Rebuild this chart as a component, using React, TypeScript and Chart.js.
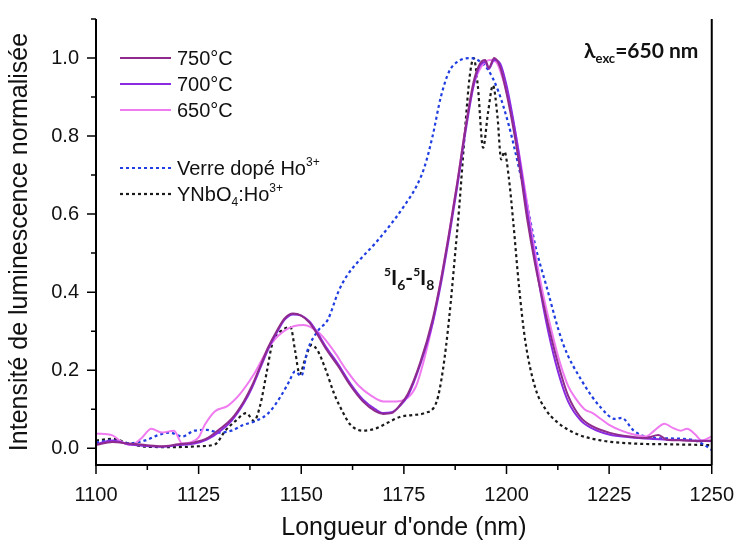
import React, { useEffect, useRef } from "react";
import { Chart, registerables } from "chart.js";
Chart.register(...registerables);

// ---------- data ----------
const wl750 = [1100, 1104, 1108, 1112, 1116, 1120, 1124, 1127, 1130, 1133, 1136, 1138, 1140, 1142, 1144, 1146, 1148, 1150, 1152, 1154, 1156, 1159, 1162, 1165, 1168, 1170, 1172, 1174, 1176, 1179, 1182, 1184, 1186, 1188, 1190, 1192, 1193.5, 1194.8, 1195.7, 1197, 1198.5, 1200, 1202, 1203.5, 1205, 1207, 1209, 1211, 1213, 1215, 1218, 1221, 1225, 1230, 1234, 1237, 1239, 1243, 1247, 1250];
const v750 = [0.008, 0.016, 0.012, 0.008, 0.005, 0.01, 0.015, 0.025, 0.048, 0.075, 0.12, 0.16, 0.21, 0.26, 0.3, 0.333, 0.345, 0.34, 0.322, 0.29, 0.255, 0.21, 0.16, 0.12, 0.095, 0.088, 0.09, 0.11, 0.14, 0.22, 0.33, 0.43, 0.55, 0.68, 0.82, 0.94, 0.985, 0.995, 0.975, 1.0, 0.975, 0.91, 0.8, 0.7, 0.59, 0.47, 0.37, 0.28, 0.2, 0.135, 0.08, 0.056, 0.04, 0.03, 0.026, 0.034, 0.022, 0.02, 0.018, 0.02];

const wl700 = [1100, 1104, 1108, 1112, 1116, 1120, 1124, 1127, 1130, 1133, 1136, 1138, 1140, 1142, 1144, 1146, 1148, 1150, 1152, 1154, 1156, 1159, 1162, 1165, 1168, 1170, 1172, 1174, 1176, 1179, 1182, 1184, 1186, 1188, 1190, 1192, 1193.5, 1194.8, 1195.7, 1197, 1198.5, 1200, 1202, 1203.5, 1205, 1207, 1209, 1211, 1213, 1215, 1218, 1221, 1225, 1230, 1235, 1240, 1245, 1250];
const v700 = [0.01, 0.02, 0.01, 0.006, 0.004, 0.008, 0.012, 0.022, 0.042, 0.07, 0.115, 0.155, 0.205, 0.255, 0.295, 0.33, 0.343, 0.34, 0.325, 0.295, 0.26, 0.215, 0.165, 0.125, 0.1, 0.09, 0.092, 0.108, 0.135, 0.215, 0.32, 0.42, 0.54, 0.67, 0.81, 0.93, 0.98, 0.99, 0.972, 0.995, 0.985, 0.93, 0.82, 0.72, 0.61, 0.48, 0.36, 0.26, 0.18, 0.12, 0.072, 0.05, 0.035, 0.028, 0.024, 0.022, 0.02, 0.018];

const wl650 = [1100, 1104, 1106, 1108.5, 1111, 1113.5, 1116, 1119, 1121, 1123, 1125, 1126.5, 1129, 1132, 1135, 1138.5, 1142.5, 1146.5, 1150.5, 1154.5, 1158, 1161, 1164, 1167, 1170, 1173, 1176, 1178, 1180, 1182, 1184, 1186, 1188, 1190, 1192, 1194, 1196, 1197.5, 1199, 1201, 1203, 1205, 1207, 1209, 1211, 1213, 1215, 1217, 1219, 1221, 1223, 1225, 1228, 1231, 1234, 1236, 1238.5, 1240.5, 1242.5, 1244, 1246, 1247.5, 1250];
const v650 = [0.038, 0.033, 0.018, 0.008, 0.025, 0.05, 0.04, 0.045, 0.012, 0.015, 0.028, 0.06, 0.095, 0.108, 0.138, 0.19, 0.265, 0.305, 0.316, 0.294, 0.248, 0.2, 0.16, 0.135, 0.12, 0.12, 0.13, 0.16, 0.23, 0.32, 0.43, 0.55, 0.68, 0.82, 0.93, 0.98, 0.995, 0.99, 0.95, 0.87, 0.76, 0.63, 0.5, 0.39, 0.3, 0.22, 0.16, 0.125, 0.1, 0.09, 0.075, 0.06, 0.045, 0.035, 0.03, 0.045, 0.063, 0.052, 0.045, 0.05, 0.035, 0.02, 0.03];

const wlGlass = [1100, 1104, 1108, 1112, 1115, 1118, 1121, 1124, 1127, 1130, 1133, 1136, 1139, 1142, 1145, 1147, 1148.5, 1150, 1151.5, 1154, 1156.5, 1159, 1161, 1164, 1168, 1173, 1175, 1178, 1180, 1182, 1184, 1186, 1188, 1191, 1193, 1195.5, 1198, 1200.5, 1203, 1205.5, 1207, 1209.6, 1213.7, 1218.5, 1223, 1226.5, 1228, 1231, 1234.5, 1240, 1245, 1248, 1250];
const vGlass = [0.015, 0.02, 0.013, 0.02, 0.033, 0.04, 0.03, 0.045, 0.047, 0.04, 0.045, 0.06, 0.07, 0.09, 0.133, 0.17, 0.197, 0.185, 0.25, 0.3, 0.33, 0.4, 0.44, 0.48, 0.525, 0.59, 0.62, 0.67, 0.72, 0.8, 0.9, 0.965, 0.99, 1.0, 0.995, 0.97, 0.915, 0.83, 0.72, 0.6, 0.52, 0.42, 0.27, 0.17, 0.104, 0.075, 0.078, 0.045, 0.028, 0.025, 0.022, 0.01, -0.005];

const wlYNbO4 = [1100, 1104, 1108, 1112, 1116, 1120, 1125, 1129, 1131.5, 1134, 1136.6, 1138.5, 1140, 1141.5, 1143, 1145, 1147.4, 1148.5, 1149.6, 1151, 1152.5, 1154, 1156, 1158, 1160, 1162, 1165, 1168, 1171, 1174, 1177, 1180, 1183, 1184.5, 1186, 1187.5, 1188.5, 1190, 1191, 1192, 1193, 1194.3, 1195.5, 1196.7, 1197.8, 1198.7, 1199.5, 1200.6, 1201.6, 1203, 1204.5, 1207, 1209.5, 1212, 1217, 1223, 1231, 1240, 1250];
const vYNbO4 = [0.02, 0.024, 0.012, 0.004, 0.003, 0.003, 0.005, 0.01, 0.045, 0.07, 0.09, 0.07, 0.11, 0.19, 0.27, 0.3, 0.31, 0.25, 0.19, 0.23, 0.265, 0.25, 0.2, 0.14, 0.095, 0.06, 0.045, 0.05, 0.065, 0.08, 0.085, 0.09, 0.12, 0.2, 0.33, 0.5, 0.62, 0.83, 0.95, 1.0, 0.93, 0.77, 0.86, 0.93, 0.85, 0.74, 0.76, 0.69, 0.585, 0.42, 0.28, 0.155, 0.1, 0.07, 0.037, 0.02, 0.012, 0.01, 0.008];

const xMajor = [1100, 1125, 1150, 1175, 1200, 1225, 1250];
const xMinor = [1112.5, 1137.5, 1162.5, 1187.5, 1212.5, 1237.5];
const yMajor = [0, 0.2, 0.4, 0.6, 0.8, 1.0];
const yMinor = [0.1, 0.3, 0.5, 0.7, 0.9, 1.1];

const FONT = "'Liberation Sans', Arial, sans-serif";

type Part = { t: string; size: number; dy: number; bold?: boolean; family?: string };

function drawRich(ctx: CanvasRenderingContext2D, parts: Part[], x: number, y: number, color: string) {
  let cx = x;
  ctx.save();
  ctx.fillStyle = color;
  ctx.textBaseline = "alphabetic";
  ctx.textAlign = "left";
  for (const p of parts) {
    ctx.font = `${p.bold ? "bold " : ""}${p.size}px ${p.family || FONT}`;
    ctx.fillText(p.t, cx, y + p.dy);
    cx += ctx.measureText(p.t).width;
  }
  ctx.restore();
}

const overlayPlugin = {
  id: "overlay",
  afterDraw(chart: any) {
    const ctx: CanvasRenderingContext2D = chart.ctx;
    const { left, right, top, bottom } = chart.chartArea;
    const xs = chart.scales.x;
    const ys = chart.scales.y;
    ctx.save();
    ctx.strokeStyle = "#000";
    ctx.lineWidth = 2;
    ctx.beginPath();
    ctx.moveTo(left, top);
    ctx.lineTo(left, bottom);
    ctx.lineTo(right, bottom);
    ctx.moveTo(right, bottom);
    ctx.lineTo(right, top);
    ctx.stroke();
    ctx.lineWidth = 1.5;
    ctx.beginPath();
    for (const v of xMajor) {
      const px = xs.getPixelForValue(v);
      ctx.moveTo(px, bottom);
      ctx.lineTo(px, bottom + 9);
    }
    for (const v of xMinor) {
      const px = xs.getPixelForValue(v);
      ctx.moveTo(px, bottom);
      ctx.lineTo(px, bottom + 5);
    }
    for (const v of yMajor) {
      const py = ys.getPixelForValue(v);
      ctx.moveTo(left, py);
      ctx.lineTo(left - 9, py);
    }
    for (const v of yMinor) {
      const py = ys.getPixelForValue(v);
      ctx.moveTo(left, py);
      ctx.lineTo(left - 5, py);
    }
    ctx.stroke();
    ctx.restore();

    // legend
    const ds = chart.data.datasets;
    const lx0 = left + 24;
    const lx1 = left + 75;
    const tx = left + 81;
    const rows = [top + 39, top + 65, top + 91, top + 149, top + 175];
    const labels: Part[][] = [
      [{ t: "750°C", size: 20, dy: 0 }],
      [{ t: "700°C", size: 20, dy: 0 }],
      [{ t: "650°C", size: 20, dy: 0 }],
      [
        { t: "Verre dopé Ho", size: 20, dy: 0 },
        { t: "3+", size: 12, dy: -9 },
      ],
      [
        { t: "YNbO", size: 20, dy: 0 },
        { t: "4", size: 12, dy: 5 },
        { t: ":Ho", size: 20, dy: 0 },
        { t: "3+", size: 12, dy: -9 },
      ],
    ];
    for (let i = 0; i < 5; i++) {
      const d = ds[i];
      const y = rows[i];
      ctx.save();
      ctx.strokeStyle = d.borderColor;
      ctx.lineWidth = d.borderWidth;
      ctx.setLineDash(d.borderDash || []);
      ctx.beginPath();
      ctx.moveTo(lx0, y);
      ctx.lineTo(lx1, y);
      ctx.stroke();
      ctx.restore();
      drawRich(ctx, labels[i], tx, y + 7, "#111");
    }

    // annotations
    const BF = "Lato, 'Open Sans', sans-serif";
    drawRich(
      ctx,
      [
        { t: "λ", size: 21, dy: 0, bold: true, family: BF },
        { t: "exc", size: 13, dy: 5, bold: true, family: BF },
        { t: "=650 nm", size: 21, dy: 0, bold: true, family: BF },
      ],
      584,
      58,
      "#111"
    );
    drawRich(
      ctx,
      [
        { t: "5", size: 12, dy: -9, bold: true, family: BF },
        { t: "I", size: 21, dy: 0, bold: true, family: BF },
        { t: "6", size: 14, dy: 5, bold: true, family: BF },
        { t: "-", size: 21, dy: 0, bold: true, family: BF },
        { t: "5", size: 12, dy: -9, bold: true, family: BF },
        { t: "I", size: 21, dy: 0, bold: true, family: BF },
        { t: "8", size: 14, dy: 5, bold: true, family: BF },
      ],
      384,
      285,
      "#111"
    );
  },
};

function series(wl: number[], v: number[]) {
  return wl.map((x, i) => ({ x, y: v[i] }));
}

export default function App() {
  const ref = useRef<HTMLCanvasElement | null>(null);
  useEffect(() => {
    if (!ref.current) return;
    const common = { pointRadius: 0, fill: false, cubicInterpolationMode: "monotone" as const };
    const chart = new Chart(ref.current, {
      type: "line",
      data: {
        datasets: [
          { label: "750°C", data: series(wl750, v750), borderColor: "#8f2b8c", borderWidth: 2, ...common },
          { label: "700°C", data: series(wl700, v700), borderColor: "#8a2be2", borderWidth: 2, ...common },
          { label: "650°C", data: series(wl650, v650), borderColor: "#f07af0", borderWidth: 2, ...common },
          { label: "Verre dopé Ho3+", data: series(wlGlass, vGlass), borderColor: "#1f3de0", borderWidth: 2.2, borderDash: [3, 3], ...common },
          { label: "YNbO4:Ho3+", data: series(wlYNbO4, vYNbO4), borderColor: "#1a1a1a", borderWidth: 2.2, borderDash: [3, 3], ...common },
        ],
      },
      options: {
        animation: false,
        responsive: false,
        layout: { padding: { top: 13, right: 26, left: 0, bottom: 0 } },
        plugins: { legend: { display: false }, tooltip: { enabled: false } },
        scales: {
          x: {
            type: "linear",
            min: 1100,
            max: 1250,
            afterBuildTicks: (s: any) => {
              s.ticks = xMajor.map((v) => ({ value: v }));
            },
            afterFit: (s: any) => {
              s.height = 79;
            },
            ticks: {
              callback: (v: any) => String(v),
              font: { family: FONT, size: 20 },
              color: "#111",
              padding: 8,
              maxRotation: 0,
              autoSkip: false,
            },
            grid: { display: true, drawOnChartArea: false, color: "rgba(0,0,0,0)", tickLength: 10 },
            border: { display: false },
            title: {
              display: true,
              text: "Longueur d'onde (nm)",
              font: { family: FONT, size: 25 },
              color: "#111",
              padding: { top: 0, bottom: 1 },
            },
          },
          y: {
            type: "linear",
            min: -0.043,
            max: 1.1,
            afterBuildTicks: (s: any) => {
              s.ticks = yMajor.map((v) => ({ value: v }));
            },
            afterFit: (s: any) => {
              s.width = 96;
            },
            ticks: {
              callback: (v: any) => Number(v).toFixed(1),
              font: { family: FONT, size: 20 },
              color: "#111",
              padding: 7,
              autoSkip: false,
            },
            grid: { display: true, drawOnChartArea: false, color: "rgba(0,0,0,0)", tickLength: 10 },
            border: { display: false },
            title: {
              display: true,
              text: "Intensité de luminescence normalisée",
              font: { family: FONT, size: 25 },
              color: "#111",
              padding: { top: 5, bottom: 0 },
            },
          },
        },
      },
      plugins: [overlayPlugin],
    });
    return () => chart.destroy();
  }, []);
  return (
    <div style={{ position: "absolute", left: 0, top: 0, width: 742, height: 544, background: "#fff" }}>
      <canvas ref={ref} width={742} height={544} style={{ display: "block" }} />
    </div>
  );
}
